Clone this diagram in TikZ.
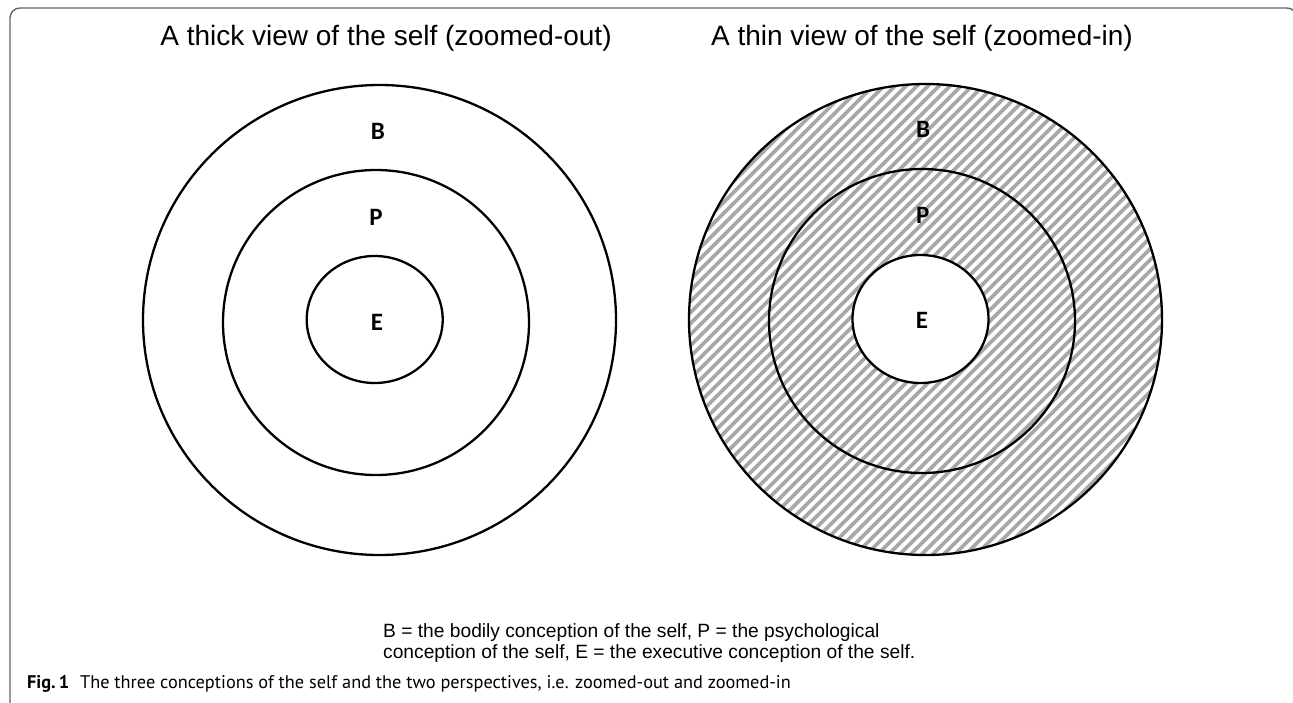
\documentclass[tikz,border=0pt]{standalone}
\usepackage{fontspec}
\setmainfont{Liberation Sans}
\newfontfamily\labfont{Carlito}
\newfontfamily\capfont{PT Sans}
\usetikzlibrary{calc}
\begin{document}
\begin{tikzpicture}[x=1pt,y=-1pt,
  ring/.style={draw=black,line width=2.3pt},
  hatchline/.style={draw={rgb,255:red,168;green,168;blue,168},line width=3.6pt},
  lab/.style={font=\labfont\bfseries\fontsize{25}{25}\selectfont,inner sep=0pt},
  ttl/.style={font=\fontsize{28}{30}\selectfont,inner sep=0pt},
  frame/.style={draw={rgb,255:red,100;green,100;blue,100},line width=1.4pt,rounded corners=10pt}]
\useasboundingbox (0,0) rectangle (1293,702);
% frame
\draw[frame] (10,720) -- (10,8) -- (1297,8) -- (1297,720);
% titles
\node[ttl] (t1) at (386,38) {A thick view of the self (zoomed-out)};
\node[ttl] (t2) at (922,38) {A thin view of the self (zoomed-in)};
% left circles
\draw[ring] (379.5,320) ellipse [x radius=236.5,y radius=235];
\draw[ring] (376,322.5) ellipse [x radius=153,y radius=152.5];
\draw[ring] (374.7,319.5) ellipse [x radius=68,y radius=63.5];
\node[lab] (bl) at (378,131) {B};
\node[lab] (pl) at (376,217) {P};
\node[lab] (el) at (377,322) {E};
% right circles with hatch
\begin{scope}
  \clip (925.5,319.5) ellipse [x radius=236.5,y radius=235.5];
  \foreach \k in {-65,...,65}
    \draw[hatchline] ({925.5+\k*11-300},{319.5+300}) -- ++(600,-600);
\end{scope}
\fill[white] (920.5,319) ellipse [x radius=68,y radius=64];
\draw[ring] (925.5,319.5) ellipse [x radius=236.5,y radius=235.5];
\draw[ring] (922,321) ellipse [x radius=153,y radius=152];
\draw[ring] (920.5,319) ellipse [x radius=68,y radius=64];
\node[lab] (br) at (923,129) {B};
\node[lab] (pr) at (922.7,215) {P};
\node[lab] (er) at (922,320) {E};
% legend
\node[anchor=north west,inner sep=0pt,align=left,font=\fontsize{19.2}{21.5}\selectfont] (leg) at (383,623)
  {B = the bodily conception of the self, P = the psychological\\conception of the self, E = the executive conception of the self.};
% caption
\node[anchor=base west,inner sep=0pt,font=\capfont\fontsize{18.3}{20}\selectfont] (cap) at (27,688)
  {\textbf{Fig.\,1}\hspace{0.6em}The three conceptions of the self and the two perspectives, i.e. zoomed-out and zoomed-in};
\end{tikzpicture}
\end{document}
